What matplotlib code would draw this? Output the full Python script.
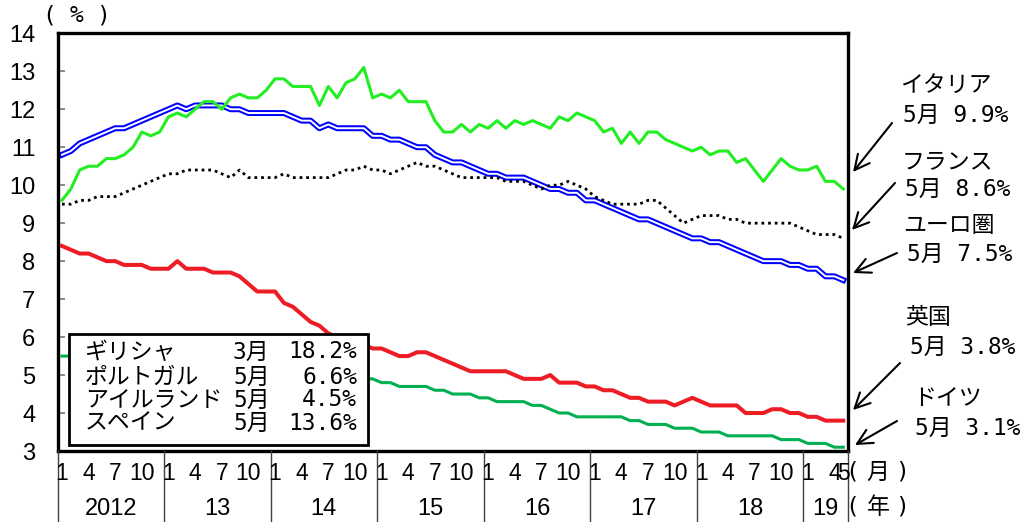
import numpy as np
import matplotlib
matplotlib.use("Agg")
import matplotlib.pyplot as plt
from matplotlib import font_manager
from matplotlib.patches import Rectangle
from matplotlib.lines import Line2D

# ---------------- data (monthly, Jan 2012 - May 2019) ----------------
italy = [9.6, 9.9, 10.4, 10.5, 10.5, 10.7, 10.7, 10.8, 11.0, 11.4, 11.3, 11.4,
         11.8, 11.9, 11.8, 12.0, 12.2, 12.2, 12.0, 12.3, 12.4, 12.3, 12.3, 12.5,
         12.8, 12.8, 12.6, 12.6, 12.6, 12.1, 12.6, 12.3, 12.7, 12.8, 13.1, 12.3,
         12.4, 12.3, 12.5, 12.2, 12.2, 12.2, 11.7, 11.4, 11.4, 11.6, 11.4, 11.6,
         11.5, 11.7, 11.5, 11.7, 11.6, 11.7, 11.6, 11.5, 11.8, 11.7, 11.9, 11.8,
         11.7, 11.4, 11.5, 11.1, 11.4, 11.1, 11.4, 11.4, 11.2, 11.1, 11.0, 10.9,
         11.0, 10.8, 10.9, 10.9, 10.6, 10.7, 10.4, 10.1, 10.4, 10.7, 10.5, 10.4,
         10.4, 10.5, 10.1, 10.1, 9.9]
france = [9.5, 9.5, 9.6, 9.6, 9.7, 9.7, 9.7, 9.8, 9.9, 10.0, 10.1, 10.2,
          10.3, 10.3, 10.4, 10.4, 10.4, 10.4, 10.3, 10.2, 10.4, 10.2, 10.2, 10.2,
          10.2, 10.3, 10.2, 10.2, 10.2, 10.2, 10.2, 10.3, 10.4, 10.4, 10.5, 10.4,
          10.4, 10.3, 10.4, 10.5, 10.6, 10.5, 10.5, 10.4, 10.3, 10.2, 10.2, 10.2,
          10.2, 10.2, 10.1, 10.1, 10.1, 10.0, 9.9, 10.0, 10.0, 10.1, 10.0, 9.9,
          9.7, 9.6, 9.5, 9.5, 9.5, 9.5, 9.6, 9.6, 9.4, 9.2, 9.0, 9.1,
          9.2, 9.2, 9.2, 9.1, 9.1, 9.0, 9.0, 9.0, 9.0, 9.0, 9.0, 8.9,
          8.8, 8.7, 8.7, 8.7, 8.6]
euro = [10.8, 10.9, 11.1, 11.2, 11.3, 11.4, 11.5, 11.5, 11.6, 11.7, 11.8, 11.9,
        12.0, 12.1, 12.0, 12.1, 12.1, 12.1, 12.1, 12.0, 12.0, 11.9, 11.9, 11.9,
        11.9, 11.9, 11.8, 11.7, 11.7, 11.5, 11.6, 11.5, 11.5, 11.5, 11.5, 11.3,
        11.3, 11.2, 11.2, 11.1, 11.0, 11.0, 10.8, 10.7, 10.6, 10.6, 10.5, 10.4,
        10.3, 10.3, 10.2, 10.2, 10.2, 10.1, 10.0, 9.9, 9.9, 9.8, 9.8, 9.6,
        9.6, 9.5, 9.4, 9.3, 9.2, 9.1, 9.1, 9.0, 8.9, 8.8, 8.7, 8.6,
        8.6, 8.5, 8.5, 8.4, 8.3, 8.2, 8.1, 8.0, 8.0, 8.0, 7.9, 7.9,
        7.8, 7.8, 7.6, 7.6, 7.5]
uk = [8.4, 8.3, 8.2, 8.2, 8.1, 8.0, 8.0, 7.9, 7.9, 7.9, 7.8, 7.8,
      7.8, 8.0, 7.8, 7.8, 7.8, 7.7, 7.7, 7.7, 7.6, 7.4, 7.2, 7.2,
      7.2, 6.9, 6.8, 6.6, 6.4, 6.3, 6.1, 6.0, 5.9, 5.8, 5.8, 5.7,
      5.7, 5.6, 5.5, 5.5, 5.6, 5.6, 5.5, 5.4, 5.3, 5.2, 5.1, 5.1,
      5.1, 5.1, 5.1, 5.0, 4.9, 4.9, 4.9, 5.0, 4.8, 4.8, 4.8, 4.7,
      4.7, 4.6, 4.6, 4.5, 4.4, 4.4, 4.3, 4.3, 4.3, 4.2, 4.3, 4.4,
      4.3, 4.2, 4.2, 4.2, 4.2, 4.0, 4.0, 4.0, 4.1, 4.1, 4.0, 4.0,
      3.9, 3.9, 3.8, 3.8, 3.8]
germany = [5.5, 5.5, 5.4, 5.4, 5.4, 5.4, 5.4, 5.4, 5.4, 5.4, 5.4, 5.4,
           5.4, 5.4, 5.3, 5.3, 5.3, 5.3, 5.2, 5.2, 5.2, 5.2, 5.1, 5.1,
           5.1, 5.1, 5.1, 5.0, 5.0, 5.0, 5.0, 5.0, 5.0, 5.0, 4.9, 4.9,
           4.8, 4.8, 4.7, 4.7, 4.7, 4.7, 4.6, 4.6, 4.5, 4.5, 4.5, 4.4,
           4.4, 4.3, 4.3, 4.3, 4.3, 4.2, 4.2, 4.1, 4.0, 4.0, 3.9, 3.9,
           3.9, 3.9, 3.9, 3.9, 3.8, 3.8, 3.7, 3.7, 3.7, 3.6, 3.6, 3.6,
           3.5, 3.5, 3.5, 3.4, 3.4, 3.4, 3.4, 3.4, 3.4, 3.3, 3.3, 3.3,
           3.2, 3.2, 3.2, 3.1, 3.1]

years = ["2012", "13", "14", "15", "16", "17", "18", "19"]
months_per_year = [12, 12, 12, 12, 12, 12, 12, 5]
month_labels = ["1", "4", "7", "10"]
last_year_month_labels = ["1", "4", "5"]

box_names = ["ギリシャ", "ポルトガル", "アイルランド", "スペイン"]
box_months = ["3月", "5月", "5月", "5月"]
box_values = ["18.2%", "6.6%", "4.5%", "13.6%"]

right_names = ["イタリア", "フランス", "ユーロ圏", "英国", "ドイツ"]
right_values = ["5月 9.9%", "5月 8.6%", "5月 7.5%", "5月 3.8%", "5月 3.1%"]

# ---------------- figure ----------------
W, H = 1030, 522
fig = plt.figure(figsize=(W / 100, H / 100), dpi=100)
L, R, T, B = 57.5, 847.7, 33.3, 451.0
ax = fig.add_axes([L / W, 1 - B / H, (R - L) / W, (B - T) / H])

names = {f.name for f in font_manager.fontManager.ttflist}
narrow = "Liberation Sans Narrow" in names
num_family = ["Liberation Sans", "DejaVu Sans"]
axis_family = ["Liberation Sans Narrow"] if narrow else ["Liberation Sans"]
month_size = 19 if narrow else 16.5
year_size = 19 if narrow else 17
cjk = ["DejaVu Sans Mono", "Noto Sans CJK JP"]
CJK_SIZE = 16.5

n = len(italy)
x = np.arange(n)

ax.plot(x, euro, color="#0000FF", lw=4.3, zorder=2)
ax.plot(x, euro, color="white", lw=1.4, zorder=2.1)
ax.plot(x, france, color="black", lw=2.0, linestyle=(0, (1, 1.4)), zorder=2.2)
ax.plot(x, italy, color="#22EE22", lw=2.2, zorder=2.3)
ax.plot(x, germany, color="#00B050", lw=2.2, zorder=2.4)
ax.plot(x, uk, color="#EE1C25", lw=2.9, zorder=2.5)

ax.set_xlim(-0.5, n - 0.5)
ax.set_ylim(3, 14)
ax.set_yticks(range(3, 15))
ax.set_xticks([])
ax.tick_params(axis="y", direction="in", length=5, width=1.3, color="#808080",
               pad=16, labelsize=17)
for lab in ax.get_yticklabels():
    lab.set_family(num_family)
for s in ax.spines.values():
    s.set_linewidth(2.4)
    s.set_color("black")


def fx(i):
    return L + (i + 0.5) * (R - L) / n


def ftext(xp, yp, s, **kw):
    return fig.text(xp / W, 1 - yp / H, s, **kw)


# month / year labels and dividers
start = 0
bounds = [-0.5]
for k, (yr, nm) in enumerate(zip(years, months_per_year)):
    labs = last_year_month_labels if k == len(years) - 1 else month_labels
    for lab in labs:
        i = start + int(lab) - 1
        ftext(fx(i), 473, lab, ha="center", va="center",
              family=axis_family, fontsize=month_size)
    ftext(fx(start + (nm - 1) / 2), 509, yr, ha="center", va="center",
          family=axis_family, fontsize=year_size)
    start += nm
    bounds.append(start - 0.5)
for b in bounds:
    xp = fx(b)
    fig.add_artist(Line2D([xp / W, xp / W], [1 - B / H, 0], transform=fig.transFigure,
                          color="#404040", lw=1.0))

# unit labels
for ch, xc in zip(["(", "%", ")"], [49, 76, 103]):
    ftext(xc, 16, ch, ha="center", va="center", family=cjk, fontsize=CJK_SIZE)
for row_y, word in [(472, "月"), (507, "年")]:
    for ch, xc in zip(["(", word, ")"], [852, 878, 902]):
        ftext(xc, row_y, ch, ha="center", va="center", family=cjk, fontsize=CJK_SIZE)

# box with other countries
rect = Rectangle((69.3 / W, 1 - 445.3 / H), (368.3 - 69.3) / W, (445.3 - 334.3) / H,
                 transform=fig.transFigure, facecolor="white", edgecolor="black",
                 lw=2.0, zorder=5)
fig.add_artist(rect)
for yp, nm_, mo, val in zip([352, 377, 400, 423], box_names, box_months, box_values):
    ftext(85, yp, nm_, ha="left", va="center", family=cjk, fontsize=CJK_SIZE, zorder=6)
    ftext(233, yp, mo, ha="left", va="center", family=cjk, fontsize=CJK_SIZE, zorder=6)
    ftext(357, yp, val, ha="right", va="center", family=cjk, fontsize=CJK_SIZE, zorder=6)

# right-side annotations
name_pos = [(900, 86), (902, 162), (903, 225), (905, 317), (913, 399)]
val_pos = [(903, 115), (905, 189), (907, 254), (910, 347), (915, 428)]
arrows = [((892, 123), (853, 172)), ((895, 183), (852, 230)), ((897, 253), (853, 273)),
          ((900, 363), (853, 410)), ((897, 421), (855, 445))]
for nm_, val, (nx, ny), (vx, vy), (tail, head) in zip(right_names, right_values,
                                                       name_pos, val_pos, arrows):
    ftext(nx, ny, nm_, ha="left", va="center", family=cjk, fontsize=CJK_SIZE)
    ftext(vx, vy, val, ha="left", va="center", family=cjk, fontsize=CJK_SIZE)
    ax.annotate("", xy=(head[0], H - head[1]), xytext=(tail[0], H - tail[1]),
                xycoords="figure pixels", textcoords="figure pixels",
                annotation_clip=False,
                arrowprops=dict(arrowstyle="->,head_length=0.6,head_width=0.3",
                                mutation_scale=18, lw=1.5, color="black",
                                shrinkA=0, shrinkB=0))

fig.savefig("out.png", dpi=100)
